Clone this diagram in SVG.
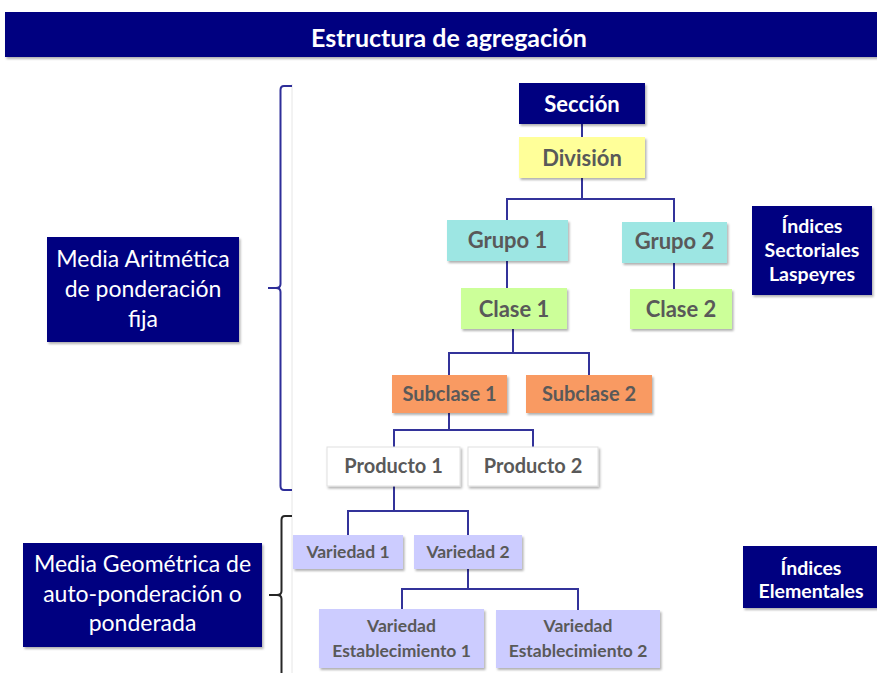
<svg xmlns="http://www.w3.org/2000/svg" width="877" height="673" viewBox="0 0 877 673">
<defs>
<filter id="sh" x="-10%" y="-10%" width="130%" height="140%">
<feDropShadow dx="1.5" dy="2" stdDeviation="1.2" flood-color="#000" flood-opacity="0.3"/>
</filter>
<style>
.nb{filter:url(#sh);}
.navy{fill:#000080;}
.t{font-family:Lato,"Liberation Sans",sans-serif;font-weight:bold;fill:#595959;text-anchor:middle;}
.tw{font-family:Lato,"Liberation Sans",sans-serif;font-weight:bold;fill:#ffffff;text-anchor:middle;}
.tr{font-family:Lato,"Liberation Sans",sans-serif;font-weight:normal;fill:#ffffff;text-anchor:middle;font-size:23px;}
.n22{font-size:22px;}
.n21{font-size:20px;}
.n20{font-size:20px;}
.n17{font-size:17.5px;}
.n19{font-size:19.5px;}
.conn{fill:none;stroke:#33339a;stroke-width:2;}
</style>
</defs>
<rect width="877" height="673" fill="#ffffff"/>
<g id="title">
<rect class="nb navy" x="5" y="12" width="875" height="45"/>
<text class="tw" x="449" y="47" font-size="25">Estructura de agregación</text>
</g>
<line x1="292" y1="84" x2="292" y2="673" stroke="#e6e6e6" stroke-width="1"/>
<g id="connectors">
<path class="conn" d="M582,124V137M582,178V199M507,220V199H674V222M507,261V288M674,263V289M513,329V353M449,375V353H589V375M449,413V430M394,447V430H533V447M394,486V511M348,535V511H468V535M468,569V589M402,609V589H578V610"/>
</g>
<g id="brace-top">
<path d="M292,86H284Q280.5,86 280.5,90V284Q280.5,288 276,288H268H276Q280.5,288 280.5,292V486Q280.5,490 284,490H292" fill="none" stroke="#2e2e99" stroke-width="2"/>
</g>
<g id="brace-bottom">
<path d="M292,516H285Q281.5,516 281.5,520V591Q281.5,595 277,595H269H277Q281.5,595 281.5,599V680" fill="none" stroke="#262626" stroke-width="2"/>
</g>
<g id="seccion"><rect class="nb navy" x="519" y="83" width="126" height="41"/><text class="tw n22" x="582" y="112">Sección</text></g>
<g id="division"><rect class="nb" x="519" y="137" width="126" height="41" fill="#ffff99"/><text class="t n22" x="582" y="166">División</text></g>
<g id="grupo1"><rect class="nb" x="447" y="220" width="121" height="41" fill="#9de6e3"/><text class="t n22" x="507.5" y="248">Grupo 1</text></g>
<g id="grupo2"><rect class="nb" x="622" y="222" width="105" height="41" fill="#9de6e3"/><text class="t n22" x="674.5" y="249">Grupo 2</text></g>
<g id="clase1"><rect class="nb" x="461" y="288" width="106" height="41" fill="#ccff99"/><text class="t n22" x="514" y="317">Clase 1</text></g>
<g id="clase2"><rect class="nb" x="630" y="289" width="102" height="40" fill="#ccff99"/><text class="t n22" x="681" y="317">Clase 2</text></g>
<g id="subclase1"><rect class="nb" x="392" y="375" width="115" height="38" fill="#f99a62"/><text class="t n21" x="449.5" y="401">Subclase 1</text></g>
<g id="subclase2"><rect class="nb" x="526" y="375" width="126" height="38" fill="#f99a62"/><text class="t n21" x="589" y="401">Subclase 2</text></g>
<g id="producto1"><rect class="nb" x="327" y="447" width="133" height="39" fill="#ffffff" stroke="#e0e0e0"/><text class="t n20" x="393.5" y="473">Producto 1</text></g>
<g id="producto2"><rect class="nb" x="468" y="447" width="130" height="39" fill="#ffffff" stroke="#e0e0e0"/><text class="t n20" x="533" y="473">Producto 2</text></g>
<g id="variedad1"><rect class="nb" x="293" y="535" width="110" height="34" fill="#ccccff"/><text class="t n17" x="348" y="558">Variedad 1</text></g>
<g id="variedad2"><rect class="nb" x="414" y="535" width="108" height="34" fill="#ccccff"/><text class="t n17" x="468" y="558">Variedad 2</text></g>
<g id="varest1"><rect class="nb" x="319" y="609" width="165" height="59" fill="#ccccff"/><text class="t n17" x="401.5" y="632">Variedad</text><text class="t n17" x="401.5" y="657">Establecimiento 1</text></g>
<g id="varest2"><rect class="nb" x="496" y="610" width="164" height="58" fill="#ccccff"/><text class="t n17" x="578" y="632">Variedad</text><text class="t n17" x="578" y="657">Establecimiento 2</text></g>
<g id="media-aritmetica"><rect class="nb navy" x="47" y="237" width="192" height="105"/><text class="tr" x="143" y="267">Media Aritmética</text><text class="tr" x="143" y="297">de ponderación</text><text class="tr" x="143" y="327">fija</text></g>
<g id="media-geometrica"><rect class="nb navy" x="23" y="543" width="239" height="104"/><text class="tr" x="142.5" y="572">Media Geométrica de</text><text class="tr" x="142.5" y="602">auto-ponderación o</text><text class="tr" x="142.5" y="631">ponderada</text></g>
<g id="indices-sectoriales"><rect class="nb navy" x="752" y="206" width="120" height="89"/><text class="tw n19" x="812" y="233">Índices</text><text class="tw n19" x="812" y="257">Sectoriales</text><text class="tw n19" x="812" y="281">Laspeyres</text></g>
<g id="indices-elementales"><rect class="nb navy" x="743" y="546" width="140" height="62"/><text class="tw n19" x="811" y="575">Índices</text><text class="tw n19" x="811" y="598">Elementales</text></g>
</svg>
